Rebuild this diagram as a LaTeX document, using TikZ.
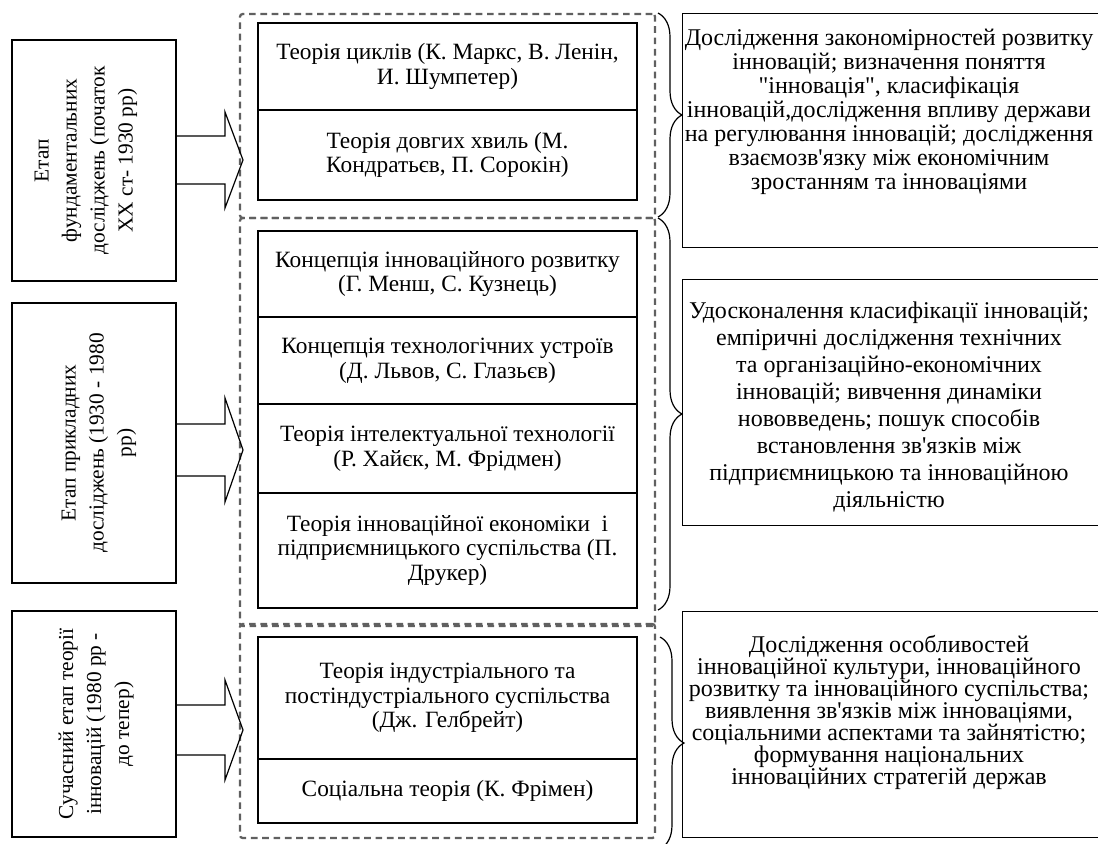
\documentclass[tikz,border=0pt]{standalone}
\usepackage{fontspec}
\setmainfont{Liberation Serif}
\usetikzlibrary{calc,decorations.pathreplacing}

\newcommand{\dquote}{\XeTeXglyph\XeTeXglyphindex "quotedbl"\relax}
\newcommand{\squote}{\XeTeXglyph\XeTeXglyphindex "quotesingle"\relax}

\definecolor{dashgrey}{RGB}{96,96,96}

\tikzset{every picture/.style={line width=0.75pt}}
\tikzset{
  stagebox/.style={draw, line width=0.9pt, minimum width=123pt, inner sep=0pt},
  stagetext/.style={rotate=90, align=center, inner sep=0.75pt, font=\fontsize{16}{21}\selectfont},
  groupbox/.style={draw=dashgrey, line width=1.7pt, dash pattern=on 5pt off 3.5pt, rounded corners=2pt, minimum width=311.25pt, inner sep=0pt},
  theorybox/.style={draw, line width=0.9pt, minimum width=284.25pt, align=center, inner sep=0.75pt, font=\fontsize{17.5}{18.5}\selectfont},
  resbox/.style={minimum width=315pt, inner sep=0pt},
  restext/.style={align=center, inner sep=0.75pt, font=\fontsize{18}{18}\selectfont},
  blockarrow/.style={draw, line width=0.9pt, line join=miter},
  stagebrace/.style={draw, line width=0.9pt, decorate, decoration={brace, amplitude=18pt, aspect=0.5}}
}

\begin{document}
\begin{tikzpicture}[x=0.75pt,y=0.75pt,yscale=-1,xscale=1]
	\useasboundingbox (0,0) rectangle (1098,843);
	\clip (0,0) rectangle (1098,843);

	%Shape: Dashed groups
	\node [groupbox, minimum height=153pt] (g1) at (447.5,116) {};
	\node [groupbox, minimum height=306pt] (g2) at (447.5,422) {};
	\node [groupbox, minimum height=160.5pt] (g3) at (447.5,731) {};

	%Shape: Stage boxes
	\node [stagebox, minimum height=180.75pt] (s1) at (94,160.5) {};
	\node [stagebox, minimum height=210pt] (s2) at (94,443) {};
	\node [stagebox, minimum height=169.5pt] (s3) at (94,724) {};
	% Text Node
	\node [stagetext] (s1t) at (86,160.5) {Етап\\фундаментальних\\досліджень (початок\\ХХ ст- 1930 рр)};
	% Text Node
	\node [stagetext] (s2t) at (99,443) {Етап прикладних\\досліджень (1930 - 1980\\рр)};
	% Text Node
	\node [stagetext] (s3t) at (96,724) {Сучасний етап теорії\\інновацій (1980 рр -\\до тепер)};

	%Shape: Theory boxes
	\node [theorybox, minimum height=65.25pt] (c1) at (447.5,66.5) {Теорія циклів (К. Маркс, В. Ленін,\\И. Шумпетер)};
	\node [theorybox, minimum height=67.5pt] (c2) at (447.5,155) {Теорія довгих хвиль (М.\\Кондратьєв, П. Сорокін)};
	\node [theorybox, minimum height=64.5pt] (c3) at (447.5,274) {Концепція інноваційного розвитку\\(Г. Менш, С. Кузнець)};
	\node [theorybox, minimum height=65.25pt] (c4) at (447.5,360.5) {Концепція технологічних устроїв\\(Д. Львов, С. Глазьєв)};
	\node [theorybox, minimum height=66.75pt] (c5) at (447.5,448.5) {Теорія інтелектуальної технології\\(Р. Хайєк, М. Фрідмен)};
	\node [theorybox, minimum height=86.25pt] (c6) at (447.5,550.5) {Теорія інноваційної економіки~ і\\підприємницького суспільства (П.\\Друкер)};
	\node [theorybox, minimum height=91.5pt] (c7) at (447.5,698) {Теорія індустріального та\\постіндустріального суспільства\\(Дж. Гелбрейт)};
	\node [theorybox, minimum height=48pt] (c8) at (447.5,791) {Соціальна теорія (К. Фрімен)};

	%Shape: Result boxes (open on the right, running off the page)
	\node [resbox, minimum height=174.75pt] (r1) at (893,130.5) {};
	\node [resbox, minimum height=183.75pt] (r2) at (893,402.5) {};
	\node [resbox, minimum height=168.75pt] (r3) at (893,724.5) {};
	\draw [line width=0.9pt] (r1.north east) -- (r1.north west) -- (r1.south west) -- (r1.south east) ;
	\draw [line width=0.9pt] (r2.north east) -- (r2.north west) -- (r2.south west) -- (r2.south east) ;
	\draw [line width=0.9pt] (r3.north east) -- (r3.north west) -- (r3.south west) -- (r3.south east) ;
	% Text Node
	\node [restext] (r1t) at (889,112) {Дослідження закономірностей розвитку\\інновацій; визначення поняття\\\dquote інновація\dquote, класифікація\\інновацій,дослідження впливу держави\\на регулювання інновацій; дослідження\\взаємозв\squote язку між економічним\\зростанням та інноваціями};
	% Text Node
	\node [restext, font=\fontsize{18}{20.25}\selectfont] (r2t) at (889,407) {Удосконалення класифікації інновацій;\\емпіричні дослідження технічних\\та організаційно-економічних\\інновацій; вивчення динаміки\\нововведень; пошук способів\\встановлення зв\squote язків між\\підприємницькою та інноваційною\\діяльністю};
	% Text Node
	\node [restext, font=\fontsize{18}{16.5}\selectfont] (r3t) at (889,712) {Дослідження особливостей\\інноваційної культури, інноваційного\\розвитку та інноваційного суспільства;\\виявлення зв\squote язків між інноваціями,\\соціальними аспектами та зайнятістю;\\формування національних\\інноваційних стратегій держав};

	%Block Arrows
	\coordinate (a1) at (243,160);
	\coordinate (a2) at (243,450);
	\coordinate (a3) at (243,730);
	\draw [blockarrow] ($(s1.east |- a1)+(0,-24)$) -- ($(a1)+(-18,-24)$) -- ($(a1)+(-18,-48)$) -- (a1) -- ($(a1)+(-18,48)$) -- ($(a1)+(-18,24)$) -- ($(s1.east |- a1)+(0,24)$) ;
	\draw [blockarrow] ($(s2.east |- a2)+(0,-26)$) -- ($(a2)+(-18,-26)$) -- ($(a2)+(-18,-52)$) -- (a2) -- ($(a2)+(-18,52)$) -- ($(a2)+(-18,26)$) -- ($(s2.east |- a2)+(0,26)$) ;
	\draw [blockarrow] ($(s3.east |- a3)+(0,-25)$) -- ($(a3)+(-18,-25)$) -- ($(a3)+(-18,-50)$) -- (a3) -- ($(a3)+(-18,50)$) -- ($(a3)+(-18,25)$) -- ($(s3.east |- a3)+(0,25)$) ;

	%Braces
	\draw [stagebrace] (658,13) -- (658,217) ;
	\draw [stagebrace] (658,218) -- (658,610) ;
	\draw [stagebrace] (660,637) -- (660,849) ;

\end{tikzpicture}
\end{document}
